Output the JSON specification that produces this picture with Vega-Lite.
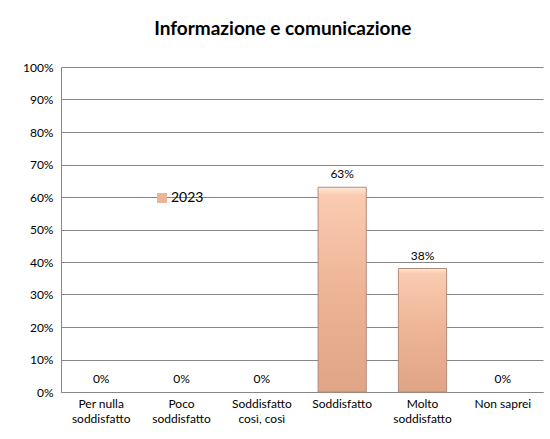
{
  "$schema": "https://vega.github.io/schema/vega-lite/v6.json",
  "width": 482,
  "height": 325,
  "autosize": {"type": "none"},
  "padding": {"left": 61, "top": 67, "right": 7, "bottom": 47},
  "background": "white",
  "title": {
    "text": "Informazione e comunicazione",
    "font": "Lato",
    "fontSize": 19,
    "fontWeight": "bold",
    "color": "#000000",
    "anchor": "middle",
    "frame": "bounds",
    "offset": 22
  },
  "data": {
    "values": [
      {"cat": "Per nulla soddisfatto", "value": 0, "year": "2023"},
      {"cat": "Poco soddisfatto", "value": 0, "year": "2023"},
      {"cat": "Soddisfatto così, così", "value": 0, "year": "2023"},
      {"cat": "Soddisfatto", "value": 0.63, "year": "2023"},
      {"cat": "Molto soddisfatto", "value": 0.38, "year": "2023"},
      {"cat": "Non saprei", "value": 0, "year": "2023"}
    ]
  },
  "encoding": {
    "x": {
      "field": "cat",
      "type": "nominal",
      "sort": null,
      "scale": {"paddingInner": 0.4, "paddingOuter": 0.2},
      "axis": {
        "title": null,
        "labelAngle": 0,
        "labelFont": "Lato",
        "labelFontSize": 12,
        "labelColor": "#000000",
        "labelPadding": 6,
        "labelLineHeight": 15,
        "ticks": false,
        "domainColor": "#868686",
        "labelExpr": "datum.label == 'Per nulla soddisfatto' ? ['Per nulla', 'soddisfatto'] : datum.label == 'Poco soddisfatto' ? ['Poco', 'soddisfatto'] : datum.label == 'Soddisfatto così, così' ? ['Soddisfatto', 'così, così'] : datum.label == 'Molto soddisfatto' ? ['Molto', 'soddisfatto'] : datum.label"
      }
    },
    "y": {
      "field": "value",
      "type": "quantitative",
      "scale": {"domain": [0, 1], "nice": false},
      "axis": {
        "title": null,
        "format": ".0%",
        "values": [0, 0.1, 0.2, 0.3, 0.4, 0.5, 0.6, 0.7, 0.8, 0.9, 1],
        "labelFont": "Lato",
        "labelFontSize": 12,
        "labelColor": "#000000",
        "labelPadding": 8,
        "ticks": false,
        "grid": true,
        "gridColor": "#868686",
        "gridWidth": 1,
        "domainColor": "#868686"
      }
    }
  },
  "layer": [
    {
      "mark": {
        "type": "bar",
        "stroke": "#B58C7A",
        "strokeWidth": 1,
        "fill": {
          "gradient": "linear",
          "x1": 0, "y1": 0, "x2": 0, "y2": 1,
          "stops": [
            {"offset": 0, "color": "#FDE8DA"},
            {"offset": 0.04, "color": "#FACBB1"},
            {"offset": 0.5, "color": "#EEB496"},
            {"offset": 1, "color": "#E0A486"}
          ]
        }
      },
      "encoding": {
        "strokeOpacity": {"condition": {"test": "datum.value > 0", "value": 1}, "value": 0}
      }
    },
    {
      "mark": {"type": "bar", "opacity": 0},
      "encoding": {
        "color": {
          "field": "year",
          "type": "nominal",
          "scale": {"range": ["#EEB496"]},
          "legend": {
            "title": null,
            "orient": "none",
            "legendX": 94,
            "legendY": 124,
            "symbolType": "square",
            "symbolSize": 100,
            "symbolOpacity": 1,
            "symbolStrokeColor": "#B58C7A",
            "symbolStrokeWidth": 0.5,
            "labelFont": "Lato",
            "labelFontSize": 14,
            "labelColor": "#000000",
            "labelOffset": 2,
            "padding": 0,
            "encode": {
              "symbols": {
                "update": {
                  "fill": {
                    "value": {
                      "gradient": "linear",
                      "x1": 0, "y1": 0, "x2": 1, "y2": 1,
                      "stops": [
                        {"offset": 0, "color": "#FBD9C4"},
                        {"offset": 1, "color": "#C98E72"}
                      ]
                    }
                  },
                  "opacity": {"value": 1}
                }
              }
            }
          }
        }
      }
    },
    {
      "mark": {"type": "text", "baseline": "bottom", "dy": -6, "font": "Lato", "fontSize": 12, "color": "#000000"},
      "encoding": {
        "text": {"field": "value", "type": "quantitative", "format": ".0%"}
      }
    }
  ],
  "config": {
    "view": {"stroke": null}
  }
}
